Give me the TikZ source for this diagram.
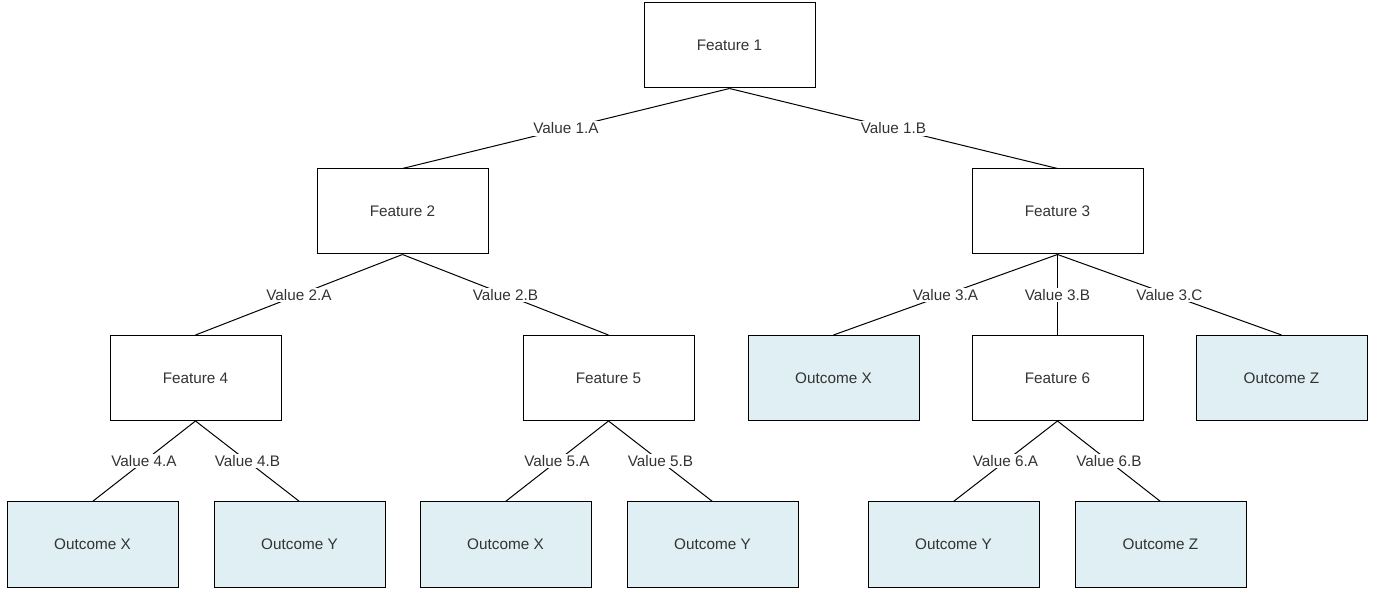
\documentclass[tikz,border=0pt]{standalone}
\usepackage{fontspec}
\setmainfont{Liberation Sans}
\begin{document}
\begin{tikzpicture}[x=1pt,y=-1pt,
    box/.style={draw=black,line width=1pt,minimum width=171pt,minimum height=85pt,
        inner sep=0pt,text=txtgray,font=\fontsize{15.3}{18}\selectfont},
    outbox/.style={box,fill=outfill},
    lbl/.style={fill=white,inner sep=1.5pt,text=txtgray,font=\fontsize{15.3}{18}\selectfont},
    edge/.style={line width=1pt}]
\definecolor{txtgray}{RGB}{51,51,51}
\definecolor{outfill}{RGB}{223,239,243}
\useasboundingbox (0,0) rectangle (1377,593);

    % features
    \node[box] (f1) at (729.5,45.5) {Feature 1};
    \node[box] (f2) at (402.5,211.5) {Feature 2};
    \node[box] (f3) at (1057.5,211.5) {Feature 3};
    \node[box] (f4) at (195.5,378) {Feature 4};
    \node[box] (f5) at (608.5,378) {Feature 5};
    \node[box] (f6) at (1057.5,378) {Feature 6};

    % outcomes
    \node[outbox] (o3a) at (833.5,378) {Outcome X};
    \node[outbox] (o3c) at (1281.5,378) {Outcome Z};
    \node[outbox] (o4a) at (92.5,544.5) {Outcome X};
    \node[outbox] (o4b) at (299.5,544.5) {Outcome Y};
    \node[outbox] (o5a) at (505.5,544.5) {Outcome X};
    \node[outbox] (o5b) at (712.5,544.5) {Outcome Y};
    \node[outbox] (o6a) at (953.5,544.5) {Outcome Y};
    \node[outbox] (o6b) at (1160.5,544.5) {Outcome Z};

    % branches
    \foreach \from/\to/\val in {f1/f2/1.A,f1/f3/1.B,f2/f4/2.A,f2/f5/2.B,
        f3/o3a/3.A,f3/f6/3.B,f3/o3c/3.C,f4/o4a/4.A,f4/o4b/4.B,
        f5/o5a/5.A,f5/o5b/5.B,f6/o6a/6.A,f6/o6b/6.B}
        \draw[edge] (\from.south) -- node[lbl] {Value \val} (\to.north);

\end{tikzpicture}
\end{document}
